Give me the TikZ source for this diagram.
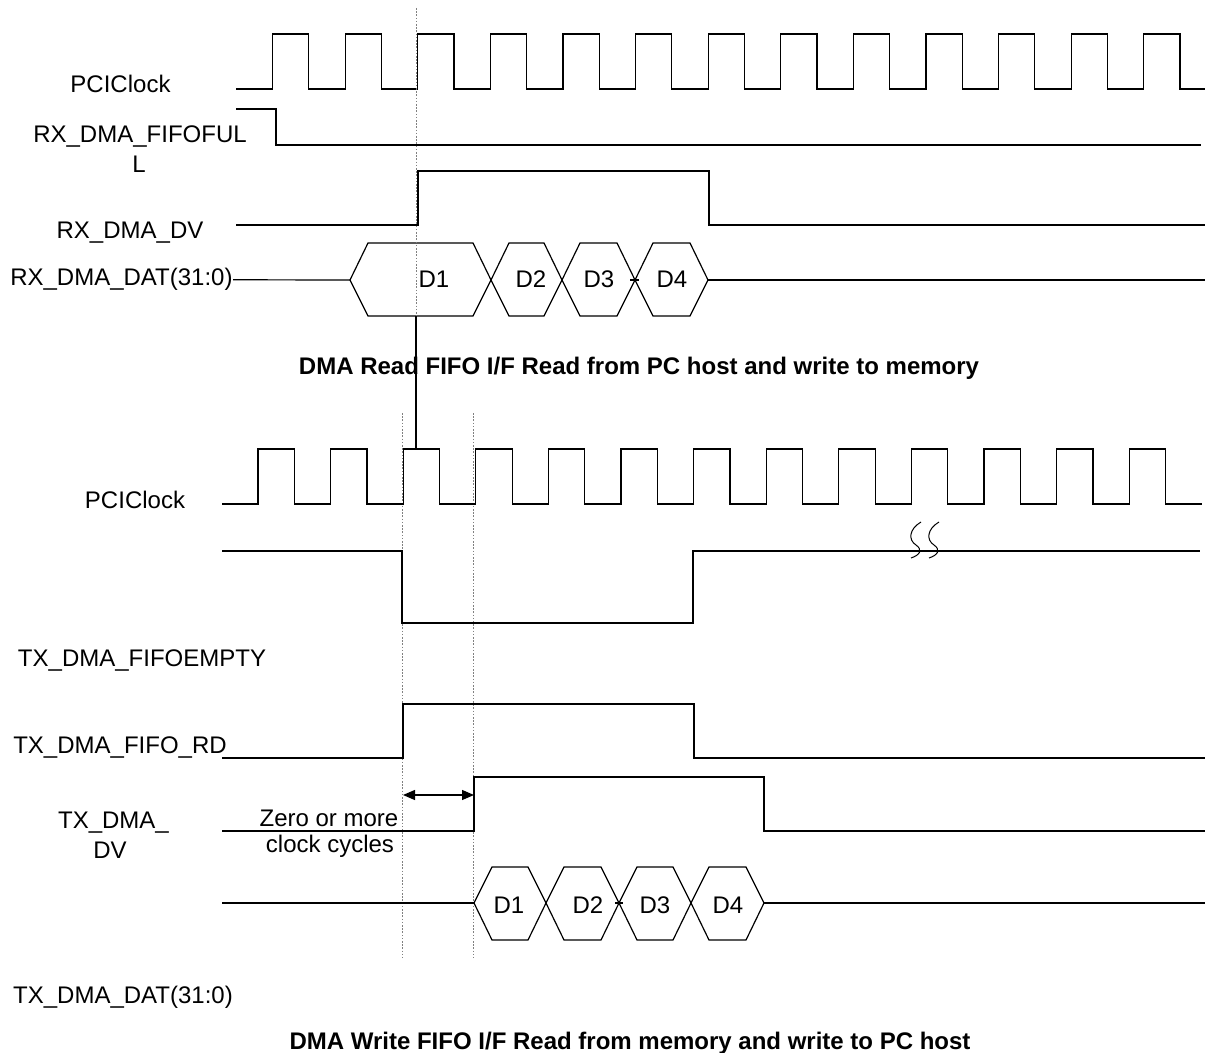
\documentclass[tikz,border=0pt]{standalone}
\usepackage{fontspec}
\setmainfont{Liberation Sans}
\usetikzlibrary{arrows.meta}

\tikzset{
  wave/.style={line width=0.6pt},
  guide/.style={gray, line width=0.5pt, dash pattern=on 0.8pt off 0.8pt},
  sig/.style={anchor=base, inner sep=0pt, font=\fontsize{12}{15}\selectfont},
  caption/.style={anchor=base, inner sep=0pt, font=\fontsize{12}{15}\selectfont\bfseries},
}

\begin{document}
\begin{tikzpicture}[x=0.5pt,y=-0.5pt]
  \useasboundingbox (0,0) rectangle (1214,1053);

  % read side
  \node[sig] (pciclkA) at (120.5,93) {PCIClock};
  \node[sig] (fullA) at (140,143) {RX\_DMA\_FIFOFUL};
  \node[sig] (fullB) at (139,173) {L};
  \node[sig] (rxdv) at (130,239) {RX\_DMA\_DV};
  \node[sig,anchor=base east] (rxdat) at (233,286) {RX\_DMA\_DAT(31:0)};

  \draw[wave] (236,89) foreach \k in {0,...,12}{ -- ({272.5+72.6*\k},89) -- ({272.5+72.6*\k},34) -- ({308.8+72.6*\k},34) -- ({308.8+72.6*\k},89) } -- (1205,89);
  \draw[wave] (236,109) -- (276,109) -- (276,145) -- (1201,145);
  \draw[wave] (236,225) -- (418,225) -- (418,171) -- (709,171) -- (709,225) -- (1205,225);

  \draw[wave] (rxdat.east) -- (350,280);
  \foreach \a/\b/\lab/\mx in {350/491/D1/434, 491/562/D2/531, 562/635/D3/599, 635/708/D4/672}{
    \draw[wave] (\a,280) -- ({\a+18},243) -- ({\b-18},243) -- (\b,280) -- ({\b-18},316) -- ({\a+18},316) -- cycle;
    \node[sig] (rx\lab) at (\mx,288) {\lab};
  }
  \draw[wave] (630,280) -- (639,280);
  \draw[wave] (708,280) -- (1205,280);

  \draw[guide] (416,8) -- (416,316);
  \draw[wave] (416,316) -- (416,449);

  \node[caption] (rdcaption) at (639,374) {DMA Read FIFO I/F Read from PC host and write to memory};

  % write side
  \node[sig] (pciclkB) at (135,508) {PCIClock};
  \node[sig] (empty) at (142,666) {TX\_DMA\_FIFOEMPTY};
  \node[sig] (txrd) at (120,753) {TX\_DMA\_FIFO\_RD};
  \node[sig] (txdvA) at (113.5,828) {TX\_DMA\_};
  \node[sig] (txdvB) at (110,858) {DV};
  \node[sig] (zeroA) at (329,826) {Zero or more};
  \node[sig] (zeroB) at (330,852) {clock cycles};
  \node[sig] (txdat) at (123,1003) {TX\_DMA\_DAT(31:0)};

  \draw[guide] (402.5,413) -- (402.5,958);
  \draw[guide] (473.5,413) -- (473.5,958);

  \draw[wave] (222,504) foreach \k in {0,...,12}{ -- ({258+72.6*\k},504) -- ({258+72.6*\k},449) -- ({294.3+72.6*\k},449) -- ({294.3+72.6*\k},504) } -- (1202,504);
  \draw[wave] (222,551) -- (402,551) -- (402,623) -- (693,623) -- (693,551) -- (1200,551);
  % break mark
  \foreach \dx in {0,18}{
    \draw[line width=0.5pt] ({921+\dx},522) .. controls ({909+\dx},529) and ({908+\dx},540) .. ({916+\dx},545) .. controls ({923+\dx},550) and ({920+\dx},555) .. ({911+\dx},558);
  }
  \draw[wave] (222,758) -- (403,758) -- (403,704) -- (694,704) -- (694,758) -- (1205,758);
  \draw[wave] (222,831) -- (474,831) -- (474,777) -- (764,777) -- (764,831) -- (1205,831);

  \coordinate (gapL) at (403,795);
  \coordinate (gapR) at (474,795);
  \draw[wave,{Triangle[length=6pt,width=5pt]}-{Triangle[length=6pt,width=5pt]}] (gapL) -- (gapR);

  \draw[wave] (222,903) -- (474,903);
  \foreach \a/\b/\lab/\mx in {474/546/D1/509, 546/619/D2/588, 619/691/D3/655, 691/764/D4/728}{
    \draw[wave] (\a,903) -- ({\a+18},867) -- ({\b-18},867) -- (\b,903) -- ({\b-18},940) -- ({\a+18},940) -- cycle;
    \node[sig] (tx\lab) at (\mx,913) {\lab};
  }
  \draw[wave] (615,903) -- (623,903);
  \draw[wave] (764,903) -- (1205,903);

  \node[caption] (wrcaption) at (630,1049) {DMA Write FIFO I/F Read from memory and write to PC host};
\end{tikzpicture}
\end{document}
